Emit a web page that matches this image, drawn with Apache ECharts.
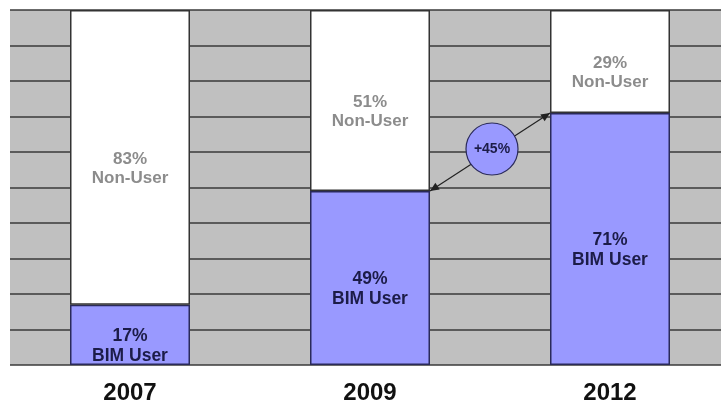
<!DOCTYPE html>
<html><head><meta charset="utf-8">
<script src="https://cdn.jsdelivr.net/npm/echarts@6/dist/echarts.min.js"></script>
<style>html,body{margin:0;padding:0;background:#fff}#c{width:721px;height:410px}</style>
</head><body><div id="c"></div>
<script>
const years = ['2007', '2009', '2012'];
const bimUser = [17, 49, 71];
const nonUser = [83, 51, 29];
const changeLabel = '+45%';

const chart = echarts.init(document.getElementById('c'));
const font = 'Liberation Sans, Arial, sans-serif';
chart.setOption({
  animation: false,
  grid: { left: 10, top: 10, width: 720, height: 355, show: true, backgroundColor: '#c0c0c0', borderWidth: 0, outerBoundsMode: 'none', containLabel: false },
  xAxis: {
    type: 'category', data: years,
    axisLine: { show: false }, axisTick: { show: false },
    axisLabel: { fontFamily: font, fontWeight: 'bold', fontSize: 24, color: '#111', margin: 16 }
  },
  yAxis: {
    type: 'value', min: 0, max: 100, interval: 10,
    axisLabel: { show: false }, axisLine: { show: false }, axisTick: { show: false },
    splitLine: { show: true, lineStyle: { color: '#3a3a3a', width: 1.5 } }
  },
  series: [
    {
      type: 'bar', stack: 's', data: bimUser, barWidth: '50%',
      itemStyle: { color: '#9999ff', borderColor: '#2a2a5a', borderWidth: 1.5 },
      label: { show: true, position: 'inside', offset: [0, 11], fontFamily: font, fontWeight: 'bold', fontSize: 17.5, lineHeight: 20, color: '#1c1c48',
        formatter: p => p.value + '%\nBIM User' }
    },
    {
      type: 'bar', stack: 's', data: nonUser, barWidth: '50%',
      itemStyle: { color: '#ffffff', borderColor: '#333333', borderWidth: 1.5 },
      label: { show: true, position: 'inside', offset: [0, 11], fontFamily: font, fontWeight: 'bold', fontSize: 17, lineHeight: 19, color: '#8c8c8c',
        formatter: p => p.value + '%\nNon-User' }
    }
  ]
});

// arrow between 2009 and 2012 BIM tops, computed from the axes
const p1 = chart.convertToPixel({ gridIndex: 0 }, [1, bimUser[1]]);
const p2 = chart.convertToPixel({ gridIndex: 0 }, [2, bimUser[2]]);
const half = (p2[0] - p1[0]) / 4;
const a = [p1[0] + half, p1[1]], b = [p2[0] - half, p2[1]];
const mid = [(a[0] + b[0]) / 2 + 2, (a[1] + b[1]) / 2 - 3];
const ang = Math.atan2(b[1] - a[1], b[0] - a[0]);
function head(pt, dir) {
  const L = 9, W = 4;
  const ux = Math.cos(dir), uy = Math.sin(dir);
  return [pt, [pt[0] - L * ux - W * uy, pt[1] - L * uy + W * ux], [pt[0] - L * ux + W * uy, pt[1] - L * uy - W * ux]];
}
chart.setOption({
  graphic: [
    { type: 'line', shape: { x1: a[0], y1: a[1], x2: b[0], y2: b[1] }, style: { stroke: '#222', lineWidth: 1.2 }, z: 100 },
    { type: 'polygon', shape: { points: head(b, ang) }, style: { fill: '#222' }, z: 100 },
    { type: 'polygon', shape: { points: head(a, ang + Math.PI) }, style: { fill: '#222' }, z: 100 },
    { type: 'circle', shape: { cx: mid[0], cy: mid[1], r: 26 }, style: { fill: '#9999ff', stroke: '#2a2a5a', lineWidth: 1.2 }, z: 101 },
    { type: 'text', x: mid[0], y: mid[1], style: { text: changeLabel, fill: '#1c1c48', font: 'bold 14px ' + font, align: 'center', verticalAlign: 'middle' }, z: 102 }
  ]
});
</script></body></html>
